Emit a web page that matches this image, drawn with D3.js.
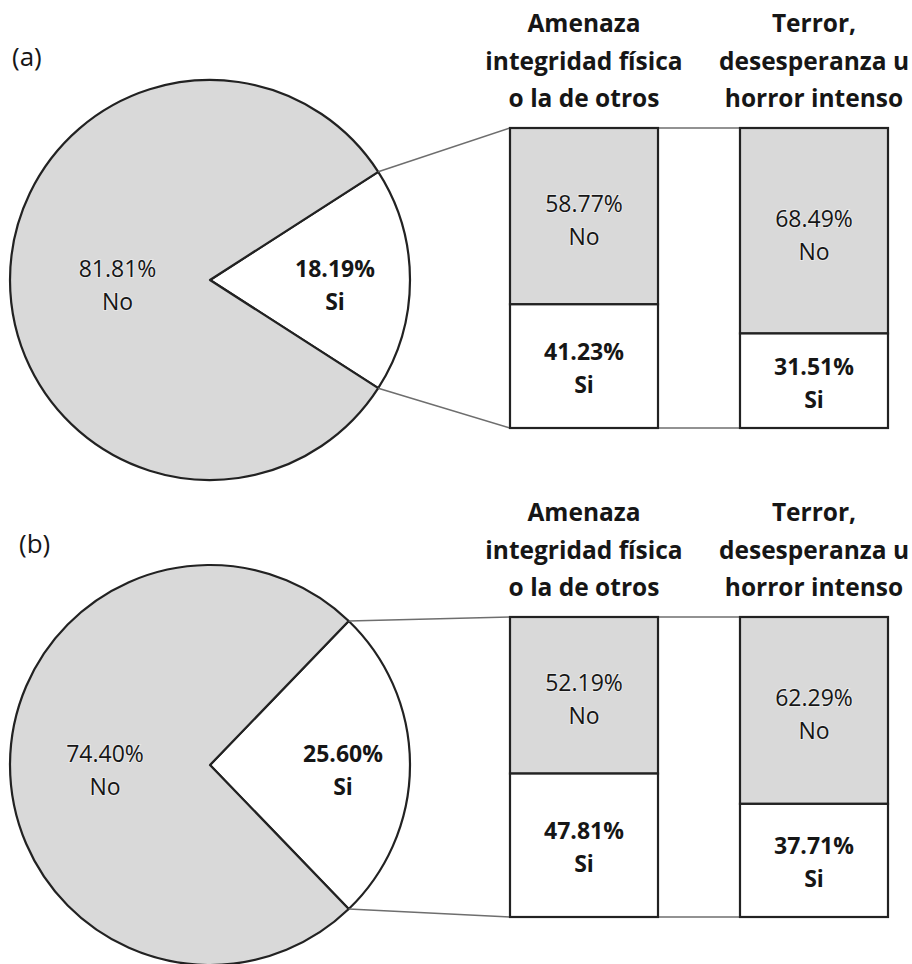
<!DOCTYPE html>
<html lang="es">
<meta charset="utf-8">
<head>
  <script src="https://d3js.org/d3.v7.min.js"></script>
  <style>
    body { margin: 0; background: #fff; }
    text { font-family: "Open Sans", "Noto Sans", sans-serif; fill: #161616; }
    .halo { paint-order: stroke; stroke: #fff; stroke-width: 2px; stroke-opacity: 0.4; }
  </style>
</head>
<body>
<div id="chart"></div>
<script>
  // data
  var panels = ["(a)", "(b)"];
  var pieNo = [81.81, 74.40];
  var pieSi = [18.19, 25.60];
  var categories = ["Amenaza", "Terror"];
  var headers = [
    ["Amenaza", "integridad física", "o la de otros"],
    ["Terror,", "desesperanza u", "horror intenso"]
  ];
  var amenazaNo = [58.77, 52.19];
  var amenazaSi = [41.23, 47.81];
  var terrorNo = [68.49, 62.29];
  var terrorSi = [31.51, 37.71];

  // layout
  var W = 912, H = 964;
  var pieCx = 210, pieCy = [280, 765], R = 200;
  var barTop = [128, 617], barH = 300;
  var grey = "#d9d9d9", ink = "#222", link = "#6e6e6e";

  var svg = d3.select("#chart").append("svg")
    .attr("width", W).attr("height", H);

  var x = d3.scaleBand().domain(categories).range([510, 888])
    .paddingInner(0.3565).paddingOuter(0);

  function fmt(v) { return v.toFixed(2) + "%"; }

  // two line label centred on (cx, cy)
  function label(g, cx, cy, top, bottom, bold, size) {
    var t = g.append("text").attr("class", "halo")
      .attr("text-anchor", "middle")
      .style("font-size", size + "px")
      .style("font-weight", bold ? 700 : 400);
    t.append("tspan").attr("x", cx).attr("y", cy - 8).text(top);
    t.append("tspan").attr("x", cx).attr("y", cy + 25).text(bottom);
  }

  panels.forEach(function (p, i) {
    var g = svg.append("g");
    var cy = pieCy[i];

    g.append("text").attr("x", i === 0 ? 12 : 19).attr("y", i === 0 ? 66 : 553)
      .style("font-size", "26px").text(p);

    // pie, "Si" slice centred on the right side
    var siFrac = pieSi[i] / 100;
    var start = Math.PI / 2 - siFrac * Math.PI;
    var pie = d3.pie().sort(null).value(function (d) { return d.v; })
      .startAngle(start).endAngle(start + 2 * Math.PI);
    var slices = pie([{ k: "Si", v: pieSi[i] }, { k: "No", v: pieNo[i] }]);
    var arc = d3.arc().innerRadius(0).outerRadius(R);

    var pg = g.append("g").attr("transform", "translate(" + pieCx + "," + cy + ")");
    pg.selectAll("path").data(slices).enter().append("path")
      .attr("d", arc)
      .attr("fill", function (d) { return d.data.k === "Si" ? "#fff" : grey; })
      .attr("stroke", ink).attr("stroke-width", 2.2).attr("stroke-linejoin", "round");

    var noArc = d3.arc().innerRadius(0).outerRadius(i === 0 ? 185 : 210);
    var siArc = d3.arc().innerRadius(0).outerRadius(i === 0 ? 250 : 266);
    slices.forEach(function (d) {
      var c = (d.data.k === "Si" ? siArc : noArc).centroid(d);
      label(pg, c[0], c[1] + 5, fmt(d.data.v), d.data.k, d.data.k === "Si", 23);
    });

    // stacked bars
    var y = d3.scaleLinear().domain([0, 100]).range([barTop[i], barTop[i] + barH]);
    var bars = [
      { c: "Amenaza", no: amenazaNo[i], si: amenazaSi[i] },
      { c: "Terror", no: terrorNo[i], si: terrorSi[i] }
    ];

    // connector lines from the pie slice to the first bar
    var a0 = slices[0].startAngle, a1 = slices[0].endAngle;
    var p0 = [pieCx + R * Math.sin(a0), cy - R * Math.cos(a0)];
    var p1 = [pieCx + R * Math.sin(a1), cy - R * Math.cos(a1)];
    var xl = x("Amenaza"), xr = x("Amenaza") + x.bandwidth(), x2 = x("Terror");
    [[p0, [xl, y(0)]], [p1, [xl, y(100)]], [[xr, y(0)], [x2, y(0)]], [[xr, y(100)], [x2, y(100)]]]
      .forEach(function (s) {
        g.append("line")
          .attr("x1", s[0][0]).attr("y1", s[0][1]).attr("x2", s[1][0]).attr("y2", s[1][1])
          .attr("stroke", link).attr("stroke-width", 1.6);
      });

    bars.forEach(function (b, j) {
      var bx = x(b.c), bw = x.bandwidth();
      g.append("rect").attr("x", bx).attr("y", y(0)).attr("width", bw)
        .attr("height", y(b.no) - y(0)).attr("fill", grey)
        .attr("stroke", ink).attr("stroke-width", 2.2);
      g.append("rect").attr("x", bx).attr("y", y(b.no)).attr("width", bw)
        .attr("height", y(100) - y(b.no)).attr("fill", "#fff")
        .attr("stroke", ink).attr("stroke-width", 2.2);

      label(g, bx + bw / 2, (y(0) + y(b.no)) / 2 + 4, fmt(b.no), "No", false, 23);
      label(g, bx + bw / 2, (y(b.no) + y(100)) / 2 + 2, fmt(b.si), "Si", true, 23);

      // header above each bar
      var ht = g.append("text").attr("text-anchor", "middle")
        .style("font-size", "24.5px").style("font-weight", 700);
      headers[j].forEach(function (line, k) {
        ht.append("tspan").attr("x", bx + bw / 2)
          .attr("y", barTop[i] - 96 + k * 37.5).text(line);
      });
    });
  });
</script>
</body>
</html>
